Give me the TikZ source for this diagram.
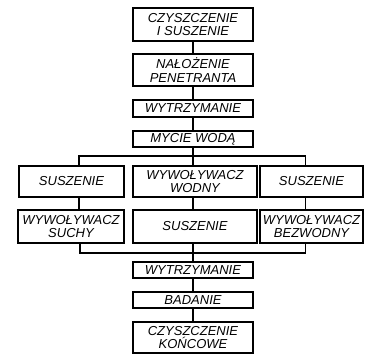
\documentclass[tikz,border=0pt]{standalone}
\usepackage{fontspec}
\setmainfont{Liberation Sans}
\begin{document}
\begin{tikzpicture}[x=1pt,y=-1pt,
  box/.style={draw=black,line width=1.8pt,rectangle,inner sep=0pt,align=center,
    font=\fontsize{13}{13.5}\selectfont\itshape},
  conn/.style={draw=black,line width=1.5pt}]
\useasboundingbox (0,0) rectangle (372,354);
% top chain
\node[box,minimum width=120pt,minimum height=33pt] (c1) at (193,24.5) {CZYSZCZENIE\\I SUSZENIE};
\node[box,minimum width=120pt,minimum height=32pt] (c2) at (193,70) {NAŁOŻENIE\\PENETRANTA};
\node[box,minimum width=120pt,minimum height=17pt] (c3) at (193,108.5) {WYTRZYMANIE};
\node[box,minimum width=120pt,minimum height=16pt] (c4) at (193,139) {MYCIE WODĄ};
% rows
\node[box,minimum width=105pt,minimum height=31pt] (l1) at (71.5,181.5) {SUSZENIE};
\node[box,minimum width=124pt,minimum height=31pt] (m1) at (195,181.5) {WYWOŁYWACZ\\WODNY};
\node[box,minimum width=103pt,minimum height=31pt] (r1) at (311.5,181.5) {SUSZENIE};
\node[box,minimum width=106pt,minimum height=33pt] (l2) at (71,226.5) {WYWOŁYWACZ\\SUCHY};
\node[box,minimum width=124pt,minimum height=33pt] (m2) at (195,226.5) {SUSZENIE};
\node[box,minimum width=103pt,minimum height=33pt] (r2) at (311.5,226.5) {WYWOŁYWACZ\\BEZWODNY};
% bottom chain
\node[box,minimum width=120pt,minimum height=16pt] (d1) at (193,270) {WYTRZYMANIE};
\node[box,minimum width=120pt,minimum height=16pt] (d2) at (193,300) {BADANIE};
\node[box,minimum width=120pt,minimum height=31pt] (d3) at (193,337.5) {CZYSZCZENIE\\KOŃCOWE};
% connectors top chain
\draw[conn] (c1.south) -- (c2.north);
\draw[conn] (c2.south) -- (c3.north);
\draw[conn] (c3.south) -- (c4.north);
% upper bracket
\coordinate (tb) at (193,156);
\coordinate (tbl) at (79,156);
\coordinate (tbr) at (305.5,156);
\draw[conn] (c4.south) -- (tb);
\draw[conn] (tbl |- l1.north) -- (tbl) -- (tbr) -- (tbr |- r1.north);
\draw[conn] (tb) -- (tb |- m1.north);
% between rows
\draw[conn] (l1.south -| tbl) -- (l2.north -| tbl);
\draw[conn] (m1.south -| tb) -- (m2.north -| tb);
\draw[conn] (r1.south -| tbr) -- (r2.north -| tbr);
% lower bracket
\coordinate (bb) at (193,253);
\coordinate (bbl) at (80,253);
\coordinate (bbr) at (305.5,253);
\draw[conn] (l2.south -| bbl) -- (bbl) -- (bbr) -- (r2.south -| bbr);
\draw[conn] (m2.south -| bb) -- (bb) -- (d1.north);
\draw[conn] (d1.south) -- (d2.north);
\draw[conn] (d2.south) -- (d3.north);
\end{tikzpicture}
\end{document}
